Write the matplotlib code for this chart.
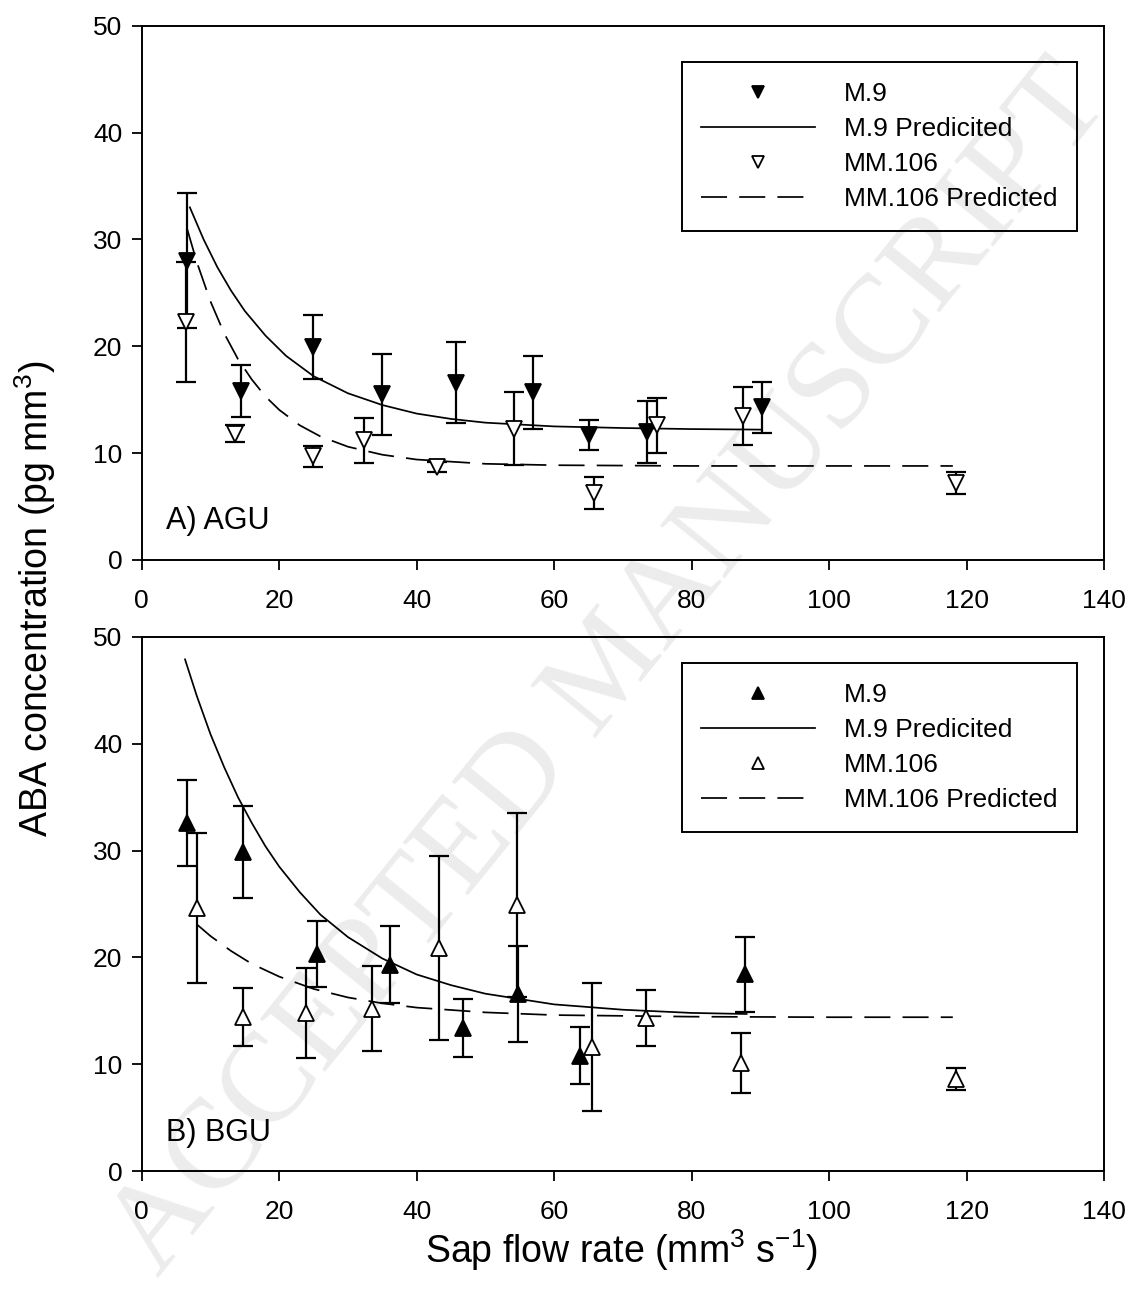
import matplotlib
matplotlib.use("Agg")
import matplotlib.pyplot as plt

plt.rcParams['font.family'] = ['Liberation Sans', 'DejaVu Sans']
plt.rcParams['mathtext.fontset'] = 'custom'
plt.rcParams['mathtext.rm'] = 'Liberation Sans'
plt.rcParams['mathtext.it'] = 'Liberation Sans'
plt.rcParams['mathtext.default'] = 'regular'

# ---------------- Data: panel A (AGU) ----------------
a_m9_x = [6.6, 14.4, 24.9, 34.9, 45.7, 56.9, 65.0, 73.5, 90.3]
a_m9_y = [28.0, 15.8, 19.9, 15.5, 16.6, 15.7, 11.7, 12.0, 14.3]
a_m9_err = [6.3, 2.4, 3.0, 3.8, 3.8, 3.4, 1.4, 2.9, 2.4]

a_mm_x = [6.4, 13.6, 24.9, 32.3, 42.9, 54.2, 65.8, 75.0, 87.5, 118.5]
a_mm_y = [22.3, 11.8, 9.7, 11.2, 8.7, 12.3, 6.3, 12.6, 13.5, 7.2]
a_mm_err = [5.6, 0.8, 1.0, 2.1, 0.5, 3.4, 1.5, 2.6, 2.7, 1.0]

a_m9_pred_x = [7, 9, 11, 13, 15, 18, 21, 25, 30, 35, 40, 45, 50, 60, 70, 80, 90]
a_m9_pred_y = [33.0, 30.0, 27.4, 25.2, 23.3, 21.0, 19.1, 17.2, 15.6, 14.5, 13.7,
               13.2, 12.85, 12.5, 12.35, 12.25, 12.2]

a_mm_pred_x = [6.6, 8, 10, 12, 14, 16, 18, 20, 23, 26, 30, 35, 40, 50, 60, 80, 100, 118]
a_mm_pred_y = [31.0, 27.9, 24.2, 21.2, 18.8, 16.9, 15.3, 14.05, 12.6, 11.56, 10.6,
               9.85, 9.4, 9.0, 8.87, 8.8, 8.8, 8.8]

# ---------------- Data: panel B (BGU) ----------------
b_m9_x = [6.6, 14.8, 25.5, 36.1, 46.8, 54.8, 63.8, 87.7]
b_m9_y = [32.6, 29.9, 20.3, 19.3, 13.4, 16.6, 10.8, 18.4]
b_m9_err = [4.0, 4.3, 3.1, 3.6, 2.7, 4.5, 2.7, 3.5]

b_mm_x = [8.1, 14.8, 23.9, 33.5, 43.2, 54.6, 65.5, 73.3, 87.2, 118.4]
b_mm_y = [24.6, 14.4, 14.8, 15.2, 20.9, 24.9, 11.6, 14.3, 10.1, 8.6]
b_mm_err = [7.0, 2.7, 4.2, 4.0, 8.6, 8.6, 6.0, 2.6, 2.8, 1.0]

b_m9_pred_x = [6.3, 8, 10, 12, 14, 16, 18, 20, 23, 26, 30, 35, 40, 45, 50, 60, 70, 80, 88]
b_m9_pred_y = [47.9, 44.5, 40.9, 37.8, 35.0, 32.6, 30.4, 28.5, 26.1, 24.0, 21.9,
               19.9, 18.4, 17.4, 16.6, 15.6, 15.1, 14.8, 14.7]

b_mm_pred_x = [8, 10, 13, 16, 20, 25, 30, 35, 40, 50, 60, 80, 100, 118]
b_mm_pred_y = [23.1, 22.0, 20.6, 19.4, 18.2, 17.05, 16.25, 15.7, 15.3, 14.85, 14.6,
               14.45, 14.4, 14.4]

xticks = [0, 20, 40, 60, 80, 100, 120, 140]
yticks = [0, 10, 20, 30, 40, 50]

fig = plt.figure(figsize=(11.32, 13.02), dpi=100)

# watermark
fig.text(0.54, 0.485, "ACCEPTED MANUSCRIPT", rotation=51, ha='center', va='center',
         fontsize=92, color='#ececec', family=['Liberation Serif', 'DejaVu Serif'],
         zorder=0)

ax1 = fig.add_axes([0.1252, 0.5699, 0.8501, 0.4104])
ax2 = fig.add_axes([0.1252, 0.1006, 0.8501, 0.4102])

LW = 1.25
dash = (15, 7)
ms = 12
ebkw = dict(elinewidth=1.6, capsize=7.5, capthick=1.6, ecolor='black', linestyle='none')


def panel(ax, m9x, m9y, m9e, mmx, mmy, mme, px1, py1, px2, py2, mk, label, legy):
    ax.set_facecolor('none')
    ax.set_zorder(1)
    ax.errorbar(m9x, m9y, yerr=m9e, **ebkw, zorder=2)
    ax.errorbar(mmx, mmy, yerr=mme, **ebkw, zorder=2)
    h1, = ax.plot(m9x, m9y, linestyle='none', marker=mk, ms=ms, mfc='black',
                  mec='black', mew=1.3, zorder=4)
    h2, = ax.plot(px1, py1, color='black', lw=LW, zorder=3)
    h3, = ax.plot(mmx, mmy, linestyle='none', marker=mk, ms=ms, mfc='white',
                  mec='black', mew=1.3, zorder=4)
    h4, = ax.plot(px2, py2, color='black', lw=LW, dashes=dash, zorder=3)
    ax.set_xlim(0, 140)
    ax.set_ylim(0, 50)
    ax.set_xticks(xticks)
    ax.set_yticks(yticks)
    ax.tick_params(direction='out', length=7, width=1.3, labelsize=19,
                   top=False, right=False)
    ax.tick_params(axis='x', pad=14)
    ax.tick_params(axis='y', pad=7)
    for s in ax.spines.values():
        s.set_linewidth(1.4)
    ax.text(3.6, 2.2, label, fontsize=22, ha='left', va='bottom')
    leg = ax.legend([h1, h2, h3, h4],
                    ['M.9', 'M.9 Predicited', 'MM.106', 'MM.106 Predicted'],
                    loc='upper right', bbox_to_anchor=(0.972, legy),
                    borderaxespad=0, fontsize=19, markerscale=0.75,
                    handlelength=4.3, handletextpad=1.1, labelspacing=0.42,
                    borderpad=0.75, fancybox=False, framealpha=1, facecolor='none',
                    edgecolor='black')
    leg.get_frame().set_linewidth(1.4)
    return ax


panel(ax1, a_m9_x, a_m9_y, a_m9_err, a_mm_x, a_mm_y, a_mm_err,
      a_m9_pred_x, a_m9_pred_y, a_mm_pred_x, a_mm_pred_y, 'v', 'A) AGU', 0.932)
panel(ax2, b_m9_x, b_m9_y, b_m9_err, b_mm_x, b_mm_y, b_mm_err,
      b_m9_pred_x, b_m9_pred_y, b_mm_pred_x, b_mm_pred_y, '^', 'B) BGU', 0.951)

fig.text(0.031, 0.54, 'ABA concentration (pg mm$^{3}$)', rotation=90,
         ha='center', va='center', fontsize=27)
fig.text(0.549, 0.04, 'Sap flow rate (mm$^{3}$ s$^{-1}$)', ha='center',
         va='center', fontsize=27)

fig.savefig('out.png', dpi=100)
